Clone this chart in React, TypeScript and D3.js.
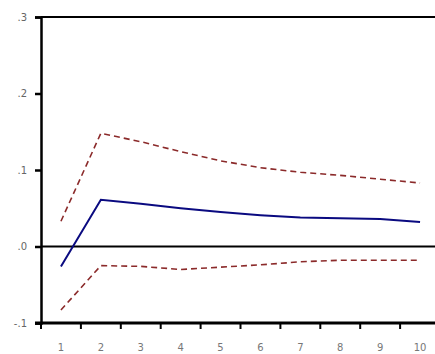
import React, { useEffect, useRef } from 'react';
import * as d3 from 'd3';

const periods = [1, 2, 3, 4, 5, 6, 7, 8, 9, 10];
const response = [-0.026, 0.061, 0.056, 0.05, 0.045, 0.041, 0.038, 0.037, 0.036, 0.032];
const upperBand = [0.033, 0.148, 0.137, 0.124, 0.112, 0.103, 0.097, 0.093, 0.088, 0.083];
const lowerBand = [-0.083, -0.025, -0.026, -0.03, -0.027, -0.024, -0.02, -0.018, -0.018, -0.018];
const yTicks = [-0.1, 0, 0.1, 0.2, 0.3];
const yTickLabels = ['-.1', '.0', '.1', '.2', '.3'];

const App: React.FC = () => {
  const svgRef = useRef<SVGSVGElement>(null);

  useEffect(() => {
    if (!svgRef.current) return;
    const width = 435;
    const height = 354;
    const margin = { top: 17, left: 41, bottom: 31 };

    const svg = d3.select(svgRef.current);
    svg.selectAll('*').remove();

    const x = d3.scaleBand<number>()
      .domain(periods)
      .range([margin.left, 440]);

    const y = d3.scaleLinear()
      .domain([-0.1, 0.3])
      .range([height - margin.bottom, margin.top]);

    const cx = (p: number) => (x(p) as number) + x.bandwidth() / 2;

    // top frame line
    svg.append('line')
      .attr('x1', margin.left).attr('x2', width)
      .attr('y1', y(0.3)).attr('y2', y(0.3))
      .attr('stroke', '#000').attr('stroke-width', 2);

    // zero line
    svg.append('line')
      .attr('x1', margin.left).attr('x2', width)
      .attr('y1', y(0)).attr('y2', y(0))
      .attr('stroke', '#000').attr('stroke-width', 2);

    // left axis
    const yAxis = svg.append('g')
      .attr('transform', `translate(${margin.left},0)`)
      .call(d3.axisLeft(y).tickValues(yTicks).tickSize(6)
        .tickFormat((_, i) => yTickLabels[i]));
    yAxis.select('.domain').attr('stroke-width', 2.5);
    yAxis.selectAll('.tick line').attr('stroke-width', 2.5);
    yAxis.selectAll('text')
      .attr('font-family', 'DejaVu Sans')
      .attr('font-size', 10)
      .attr('fill', '#666')
      .attr('dx', -5);

    // bottom axis
    const bottom = y(-0.1);
    svg.append('line')
      .attr('x1', margin.left - 6).attr('x2', width)
      .attr('y1', bottom).attr('y2', bottom)
      .attr('stroke', '#000').attr('stroke-width', 3);

    const bounds = periods.map(p => x(p) as number);
    svg.append('g')
      .selectAll('line')
      .data(bounds)
      .join('line')
      .attr('x1', d => d).attr('x2', d => d)
      .attr('y1', bottom).attr('y2', bottom + 6)
      .attr('stroke', '#000').attr('stroke-width', 2);

    svg.append('g')
      .selectAll('text')
      .data(periods)
      .join('text')
      .attr('x', d => cx(d))
      .attr('y', bottom + 28)
      .attr('text-anchor', 'middle')
      .attr('font-family', 'DejaVu Sans')
      .attr('font-size', 10)
      .attr('fill', '#777')
      .text(d => String(d));

    const line = d3.line<number>()
      .x((_, i) => cx(periods[i]))
      .y(d => y(d));

    svg.append('path')
      .datum(upperBand)
      .attr('fill', 'none')
      .attr('stroke', '#8b2a2a')
      .attr('stroke-width', 1.6)
      .attr('stroke-dasharray', '6,4')
      .attr('d', line);

    svg.append('path')
      .datum(lowerBand)
      .attr('fill', 'none')
      .attr('stroke', '#8b2a2a')
      .attr('stroke-width', 1.6)
      .attr('stroke-dasharray', '6,4')
      .attr('d', line);

    svg.append('path')
      .datum(response)
      .attr('fill', 'none')
      .attr('stroke', '#0a0a80')
      .attr('stroke-width', 2)
      .attr('d', line);
  }, []);

  return (
    <svg
      ref={svgRef}
      width={435}
      height={354}
      style={{ position: 'absolute', left: 0, top: 0, background: '#fff' }}
    />
  );
};

export default App;
